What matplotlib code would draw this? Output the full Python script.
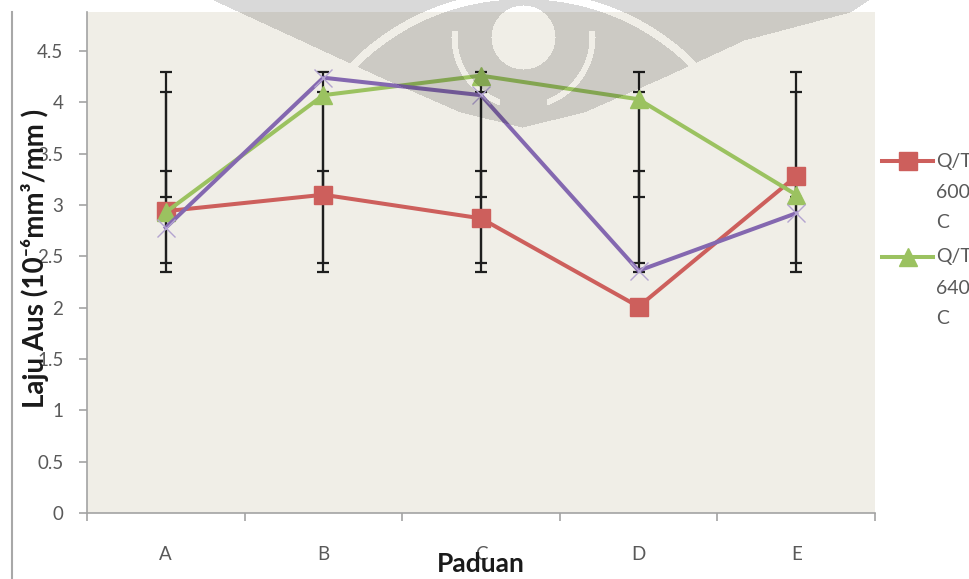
import matplotlib
matplotlib.use('Agg')
import matplotlib.pyplot as plt
from matplotlib.lines import Line2D
from matplotlib.path import Path
import numpy as np

# ---------------- data ----------------
categories = ['A', 'B', 'C', 'D', 'E']
qt600 = [2.94, 3.10, 2.87, 2.01, 3.28]
qt640 = [2.93, 4.07, 4.26, 4.03, 3.10]
qt_third = [2.78, 4.24, 4.07, 2.36, 2.92]

# error bars (lower / upper ends)
err1_lo = [2.35, 2.35, 2.35, 2.35, 2.35]
err1_hi = [4.30, 4.30, 4.30, 4.30, 4.30]
err2_lo = [2.44, 2.44, 2.44, 2.44, 2.44]
err2_hi = [4.10, 4.10, 4.10, 4.10, 4.10]
err3_lo = [3.08, 3.08, 3.08, 3.08, 3.08]
err3_hi = [3.33, 3.33, 3.33, 3.33, 3.33]

yticks = [0, 0.5, 1, 1.5, 2, 2.5, 3, 3.5, 4, 4.5]
ytick_labels = ['0', '0.5', '1', '1.5', '2', '2.5', '3', '3.5', '4', '4.5']
legend_labels = ['Q/T\n600\nC', 'Q/T\n640\nC']
xlabel = 'Paduan'
ylabel = 'Laju Aus (10\u207b\u2076mm\u00b3/mm )'

# ---------------- style ----------------
W, H = 969, 579
plt.rcParams['font.family'] = ['Lato', 'DejaVu Sans']
RED = '#CD5F5C'
GREEN = '#9BC260'
PURPLE = '#8468B0'
GRAY = '#A3A3A3'
TXT = '#595959'
BG = '#F0EEE7'


def fx(x):
    return x / W


def fy(y):
    return 1 - y / H


fig = plt.figure(figsize=(W / 100, H / 100), dpi=100)
ax = fig.add_axes([fx(87), fy(513), fx(875) - fx(87), fy(12) - fy(513)])
ax.set_facecolor(BG)

x = list(range(len(categories)))

for lo, hi in [(err1_lo, err1_hi), (err2_lo, err2_hi), (err3_lo, err3_hi)]:
    mid = [(a + b) / 2 for a, b in zip(lo, hi)]
    ax.errorbar(x, mid, yerr=[[m - a for m, a in zip(mid, lo)], [b - m for m, b in zip(mid, hi)]],
                fmt='none', ecolor='#1E1E1E', elinewidth=1.6, capsize=4.4, capthick=1.6, zorder=2)

ax.plot(x, qt600, color=RED, lw=2.9, marker='s', ms=13.5, mec=RED, mfc=RED, zorder=3)
ax.plot(x, qt640, color=GREEN, lw=2.9, marker='^', ms=13, mec=GREEN, mfc=GREEN, zorder=4)
ax.plot(x, qt_third, color=PURPLE, lw=2.9, marker='x', ms=13, mec='#B3A4D0', mew=1.0, zorder=5)

ax.set_xlim(-0.5, len(categories) - 0.5)
ax.set_ylim(0, 4.88)
ax.set_yticks(yticks)
ax.set_yticklabels(ytick_labels)
ax.set_xticks(x)
ax.set_xticklabels(categories)
ax.set_xticks([i - 0.5 for i in range(len(categories) + 1)], minor=True)

for s in ['top', 'right']:
    ax.spines[s].set_visible(False)
for s in ['left', 'bottom']:
    ax.spines[s].set_color(GRAY)
    ax.spines[s].set_linewidth(1.2)

ax.tick_params(axis='y', which='major', length=6, width=1.2, color=GRAY, pad=11,
               labelsize=13.5, labelcolor=TXT)
ax.tick_params(axis='x', which='major', length=0, pad=24, labelsize=13.5, labelcolor=TXT)
ax.tick_params(axis='x', which='minor', length=6, width=1.2, color=GRAY)

fig.text(fx(481), fy(564), xlabel, ha='center', va='center', fontsize=19,
         fontweight='bold', color='#1A1A1A')
fig.text(fx(35), fy(258), ylabel, ha='center', va='center', rotation=90,
         fontsize=20, fontweight='bold', color='#1A1A1A')

# chart-area left border
fig.add_artist(Line2D([fx(12), fx(12)], [fy(12), fy(579)], color='#A8A8A8', lw=1.5,
                      transform=fig.transFigure))

# legend (manual, cut off at the right edge as in the reference)
leg_items = [(RED, 's', 13.5, 161), (GREEN, '^', 13, 257)]
for (col, mk, ms, yy), lab in zip(leg_items, legend_labels):
    fig.add_artist(Line2D([fx(882), fx(933)], [fy(yy), fy(yy)], color=col, lw=2.9,
                          transform=fig.transFigure))
    fig.add_artist(Line2D([fx(908)], [fy(yy)], color=col, marker=mk, ms=ms, mfc=col, mec=col,
                          lw=0, transform=fig.transFigure))
    for i, part in enumerate(lab.split('\n')):
        fig.text(fx(936), fy(yy + i * 31), part, ha='left', va='center', fontsize=14,
                 color=TXT)

# faint watermark logo at the top (decoration of the scanned page)
yy, xx = np.mgrid[0:H, 0:W].astype(float)


def ell(cx, cy, a, b):
    return ((xx - cx) / a) ** 2 + ((yy - cy) / b) ** 2 <= 1


def ring(cx, cy, r0, r1):
    d = np.hypot(xx - cx, yy - cy)
    return (d >= r0) & (d <= r1)


outline = Path([(211, -1), (300, 40), (380, 77), (460, 112), (522, 127), (584, 112),
                (664, 77), (744, 40), (850, 12), (870, -1)])
pts = np.column_stack([xx.ravel(), yy.ravel()])
mask = outline.contains_points(pts).reshape(H, W)
mask &= ~ell(523, 37, 32, 32)
mask &= ~(ring(520, 230, 231, 239) & (xx < 500))
mask &= ~(ring(526, 230, 231, 239) & (xx > 548))
mask &= ~(ring(523, 37, 66, 72) & (yy > 30) & ((xx < 500) | (xx > 546)))
wm = np.zeros((H, W, 4))
wm[..., 3] = np.where(mask, 0.15, 0.0)
fig.figimage(wm, xo=0, yo=0, origin='upper', zorder=10)

fig.savefig('out.png', dpi=100, facecolor='white')
